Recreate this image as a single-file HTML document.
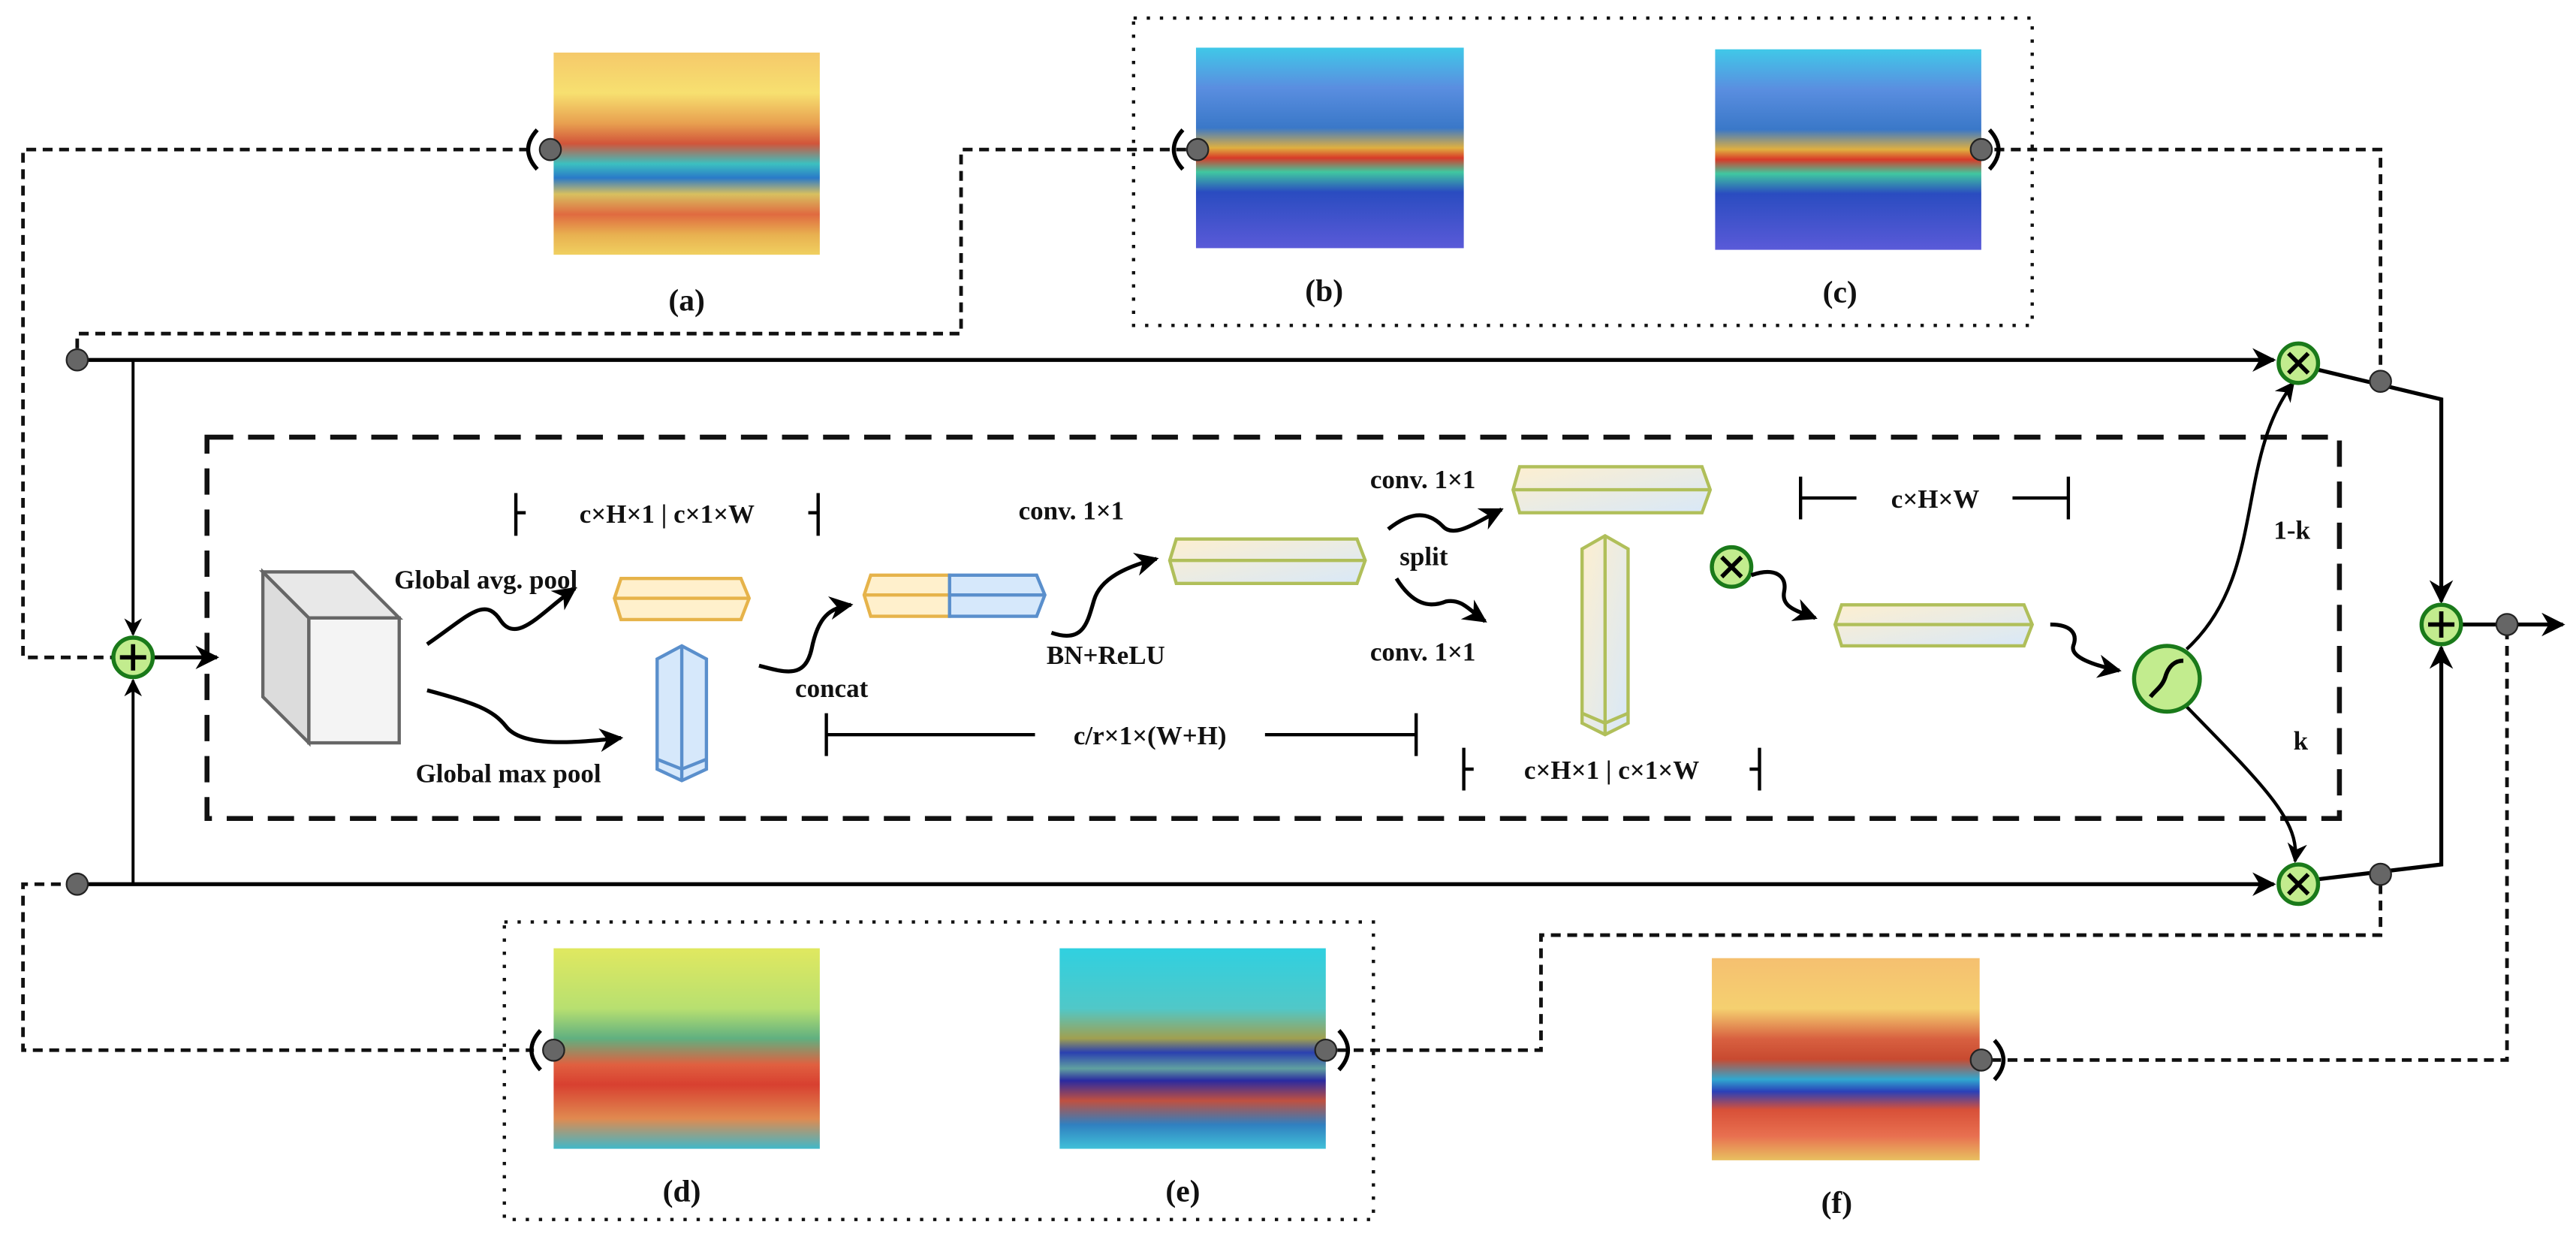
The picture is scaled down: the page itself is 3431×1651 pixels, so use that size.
<!DOCTYPE html>
<html><head><meta charset="utf-8"><style>
html,body{margin:0;padding:0;background:#fff}
svg{display:block}
text{font-family:"Liberation Serif",serif;font-weight:bold;fill:#111}
</style></head><body>
<svg width="3431" height="1651" viewBox="0 0 1568 754.5" preserveAspectRatio="none" xmlns="http://www.w3.org/2000/svg">
<defs>
<marker id="ar" viewBox="0 0 10 10" refX="9" refY="5" markerWidth="6" markerHeight="6" orient="auto-start-reverse"><path d="M0,0 L10,5 L0,10 L3,5 z" fill="#000"/></marker>
<linearGradient id="ga" x1="0" y1="0" x2="0" y2="1">
<stop offset="0" stop-color="#f5c96a"/><stop offset=".2" stop-color="#f7e070"/><stop offset=".35" stop-color="#e8a050"/><stop offset=".45" stop-color="#d2553a"/><stop offset=".55" stop-color="#3cc0c0"/><stop offset=".62" stop-color="#2a7ac8"/><stop offset=".7" stop-color="#d8c060"/><stop offset=".8" stop-color="#e06a40"/><stop offset=".9" stop-color="#e8b050"/><stop offset="1" stop-color="#f0d060"/></linearGradient>
<linearGradient id="gb" x1="0" y1="0" x2="0" y2="1">
<stop offset="0" stop-color="#40c8e8"/><stop offset=".2" stop-color="#5a8ee0"/><stop offset=".4" stop-color="#3a78c8"/><stop offset=".5" stop-color="#e0b040"/><stop offset=".55" stop-color="#d83a28"/><stop offset=".62" stop-color="#40c8a0"/><stop offset=".72" stop-color="#2a4cc0"/><stop offset="1" stop-color="#5a5ad8"/></linearGradient>
<linearGradient id="gd" x1="0" y1="0" x2="0" y2="1">
<stop offset="0" stop-color="#e0e860"/><stop offset=".3" stop-color="#b8e070"/><stop offset=".45" stop-color="#60b080"/><stop offset=".58" stop-color="#e06040"/><stop offset=".68" stop-color="#d84030"/><stop offset=".85" stop-color="#e08a50"/><stop offset="1" stop-color="#40b8c8"/></linearGradient>
<linearGradient id="ge" x1="0" y1="0" x2="0" y2="1">
<stop offset="0" stop-color="#30d0e0"/><stop offset=".3" stop-color="#50c8c8"/><stop offset=".45" stop-color="#a0a050"/><stop offset=".52" stop-color="#2a40b0"/><stop offset=".6" stop-color="#60a0a0"/><stop offset=".66" stop-color="#2a2aa0"/><stop offset=".76" stop-color="#c05040"/><stop offset=".88" stop-color="#3080c0"/><stop offset="1" stop-color="#40c0d8"/></linearGradient>
<linearGradient id="gf" x1="0" y1="0" x2="0" y2="1">
<stop offset="0" stop-color="#f5c070"/><stop offset=".25" stop-color="#f5d070"/><stop offset=".4" stop-color="#d86040"/><stop offset=".5" stop-color="#c84a30"/><stop offset=".6" stop-color="#30a8d0"/><stop offset=".66" stop-color="#2a40b8"/><stop offset=".75" stop-color="#d85038"/><stop offset=".88" stop-color="#e87050"/><stop offset="1" stop-color="#e8c060"/></linearGradient>
<linearGradient id="gp" x1="0" y1="0" x2="1" y2="1">
<stop offset="0" stop-color="#fdefd0"/><stop offset="1" stop-color="#d8e8f8"/></linearGradient>
</defs>

<rect x="337" y="32" width="162" height="123" fill="url(#ga)"/>
<rect x="728" y="29" width="163" height="122" fill="url(#gb)"/>
<rect x="1044" y="30" width="162" height="122" fill="url(#gb)"/>
<rect x="337" y="577" width="162" height="122" fill="url(#gd)"/>
<rect x="645" y="577" width="162" height="122" fill="url(#ge)"/>
<rect x="1042" y="583" width="163" height="123" fill="url(#gf)"/>

<g font-size="19" text-anchor="middle">
<text x="418" y="189">(a)</text><text x="806" y="183">(b)</text><text x="1120" y="184">(c)</text>
<text x="415" y="731">(d)</text><text x="720" y="731">(e)</text><text x="1118" y="738">(f)</text>
</g>

<g fill="none" stroke="#111" stroke-width="2" stroke-dasharray="2 6">
<rect x="690" y="11" width="547" height="187"/>
<rect x="307" y="561" width="529" height="181"/>
</g>

<rect x="126" y="266" width="1298" height="232" fill="none" stroke="#111" stroke-width="3" stroke-dasharray="16 9"/>

<g fill="none" stroke="#111" stroke-width="2.2" stroke-dasharray="6 4">
<path d="M322,91 H14 V400 H68"/>
<path d="M722,91 H585 V203 H47 V213"/>
<path d="M1214,91 H1449 V226"/>
<path d="M47,538 H14 V639 H325"/>
<path d="M1449,538 V569 H938 V639 H812"/>
<path d="M1212,645 H1526 V386"/>
</g>

<g fill="none" stroke="#000" stroke-width="2.5">
<path d="M327,79 Q316,91 327,103"/>
<path d="M720,79 Q709,91 720,103"/>
<path d="M1211,79 Q1222,91 1211,103"/>
<path d="M329,627 Q318,639 329,651"/>
<path d="M815,627 Q826,639 815,651"/>
<path d="M1214,633 Q1225,645 1214,657"/>
</g>

<g fill="none" stroke="#000" stroke-width="2.4">
<path d="M47,219 H1384" marker-end="url(#ar)"/>
<path d="M47,538 H1384" marker-end="url(#ar)"/>
<path d="M81,219 V386" marker-end="url(#ar)" stroke-width="1.8"/>
<path d="M81,538 V414" marker-end="url(#ar)" stroke-width="1.8"/>
<path d="M94,400 H132" marker-end="url(#ar)"/>
<path d="M1411,225 L1486,243 V366" marker-end="url(#ar)"/>
<path d="M1411,535 L1486,526 V394" marker-end="url(#ar)"/>
<path d="M1499,380 H1560" marker-end="url(#ar)"/>
<path d="M1331,395 C1380,350 1360,280 1396,233" marker-end="url(#ar)" stroke-width="2"/>
<path d="M1331,430 C1380,480 1400,500 1397,524" marker-end="url(#ar)" stroke-width="2"/>
</g>

<g fill="#666" stroke="#222" stroke-width="1">
<circle cx="335" cy="91" r="6.5"/><circle cx="729" cy="91" r="6.5"/><circle cx="1206" cy="91" r="6.5"/>
<circle cx="47" cy="219" r="6.5"/><circle cx="47" cy="538" r="6.5"/>
<circle cx="1449" cy="232" r="6.5"/><circle cx="1449" cy="532" r="6.5"/><circle cx="1526" cy="380" r="6.5"/>
<circle cx="337" cy="639" r="6.5"/><circle cx="807" cy="639" r="6.5"/><circle cx="1206" cy="645" r="6.5"/>
</g>

<g stroke="#1a7a1a" stroke-width="2.5" fill="#c2ec8e">
<circle cx="81" cy="400" r="12"/><circle cx="1486" cy="380" r="12"/>
<circle cx="1399" cy="221" r="12"/><circle cx="1399" cy="538" r="12"/>
<circle cx="1054" cy="345" r="12"/>
<circle cx="1319" cy="413" r="20"/>
</g>
<g stroke="#000" stroke-width="2.6" fill="none">
<path d="M81,392 V408 M73,400 H89"/><path d="M1486,372 V388 M1478,380 H1494"/>
<path d="M1393,215 L1405,227 M1405,215 L1393,227"/>
<path d="M1393,532 L1405,544 M1405,532 L1393,544"/>
<path d="M1048,339 L1060,351 M1060,339 L1048,351"/>
<path d="M1309,424 C1312,420 1316,418 1318,412 C1320,405 1324,402 1329,402"/>
</g>

<polygon points="160,348 188,376 188,452 160,424" fill="#dcdcdc" stroke="#666" stroke-width="2"/>
<polygon points="160,348 215,348 243,376 188,376" fill="#e8e8e8" stroke="#666" stroke-width="2"/>
<rect x="188" y="376" width="55" height="76" fill="#f4f4f4" stroke="#666" stroke-width="2"/>

<g stroke-width="2">
<g stroke="#e6b34a" fill="#fff0cc">
<polygon points="378,352 451,352 456,364 451,377 378,377 374,364"/><path d="M374,364 H456" fill="none"/>
<polygon points="530,350 578,350 578,375 530,375 526,362"/><path d="M526,362 H578" fill="none"/>
</g>
<g stroke="#5a8fcc" fill="#d6e8fb">
<polygon points="578,350 631,350 636,362 631,375 578,375"/><path d="M578,362 H636" fill="none"/>
<polygon points="415,393 430,401 430,468 415,475 400,468 400,401"/><path d="M415,393 V475 M400,462 L415,468 L430,462" fill="none"/>
</g>
<g stroke="#b0bf5a" fill="url(#gp)">
<polygon points="716,328 826,328 831,341 826,355 716,355 712,341"/><path d="M712,341 H831" fill="none"/>
<polygon points="925,284 1036,284 1041,298 1036,312 925,312 921,298"/><path d="M921,298 H1041" fill="none"/>
<polygon points="1121,368 1232,368 1237,380 1232,393 1121,393 1117,380"/><path d="M1117,380 H1237" fill="none"/>
<polygon points="977,326 991,334 991,440 977,447 963,440 963,334"/><path d="M977,326 V447 M963,434 L977,440 L991,434" fill="none"/>
</g>
</g>

<g fill="none" stroke="#000" stroke-width="2.4">
<path d="M260,392 C285,375 295,362 305,378 C315,392 330,372 350,358" marker-end="url(#ar)"/>
<path d="M260,420 C290,428 300,432 308,442 C318,455 350,452 378,449" marker-end="url(#ar)"/>
<path d="M462,405 C480,410 490,412 494,395 C498,375 505,370 518,368" marker-end="url(#ar)"/>
<path d="M640,385 C660,392 662,378 666,365 C670,352 685,345 704,340" marker-end="url(#ar)"/>
<path d="M845,322 C860,310 870,312 878,320 C885,328 898,318 914,310" marker-end="url(#ar)"/>
<path d="M850,352 C860,368 870,370 880,366 C890,364 895,372 904,378" marker-end="url(#ar)"/>
<path d="M1066,350 C1080,345 1088,350 1086,360 C1084,370 1095,372 1105,376" marker-end="url(#ar)"/>
<path d="M1248,380 C1260,380 1265,385 1262,393 C1260,400 1275,405 1290,408" marker-end="url(#ar)"/>
</g>

<g stroke="#000" stroke-width="2" fill="none">
<path d="M314,300 V326 M314,312 H320 M498,300 V326 M498,312 H492"/>
<path d="M503,434 V460 M503,447 H630 M862,434 V460 M862,447 H770"/>
<path d="M1096,290 V316 M1096,303 H1130 M1259,290 V316 M1259,303 H1225"/>
<path d="M891,455 V481 M891,468 H897 M1071,455 V481 M1071,468 H1065"/>
</g>

<g font-size="16">
<text x="406" y="318" text-anchor="middle">c×H×1 | c×1×W</text>
<text x="981" y="474" text-anchor="middle">c×H×1 | c×1×W</text>
<text x="700" y="453" text-anchor="middle">c/r×1×(W+H)</text>
<text x="1178" y="309" text-anchor="middle">c×H×W</text>
<text x="620" y="316">conv. 1×1</text>
<text x="834" y="297">conv. 1×1</text>
<text x="834" y="402">conv. 1×1</text>
<text x="240" y="358">Global avg. pool</text>
<text x="253" y="476">Global max pool</text>
<text x="484" y="424">concat</text>
<text x="637" y="404">BN+ReLU</text>
<text x="852" y="344">split</text>
<text x="1384" y="328">1-k</text>
<text x="1396" y="456">k</text>
</g>
</svg>
</body></html>
